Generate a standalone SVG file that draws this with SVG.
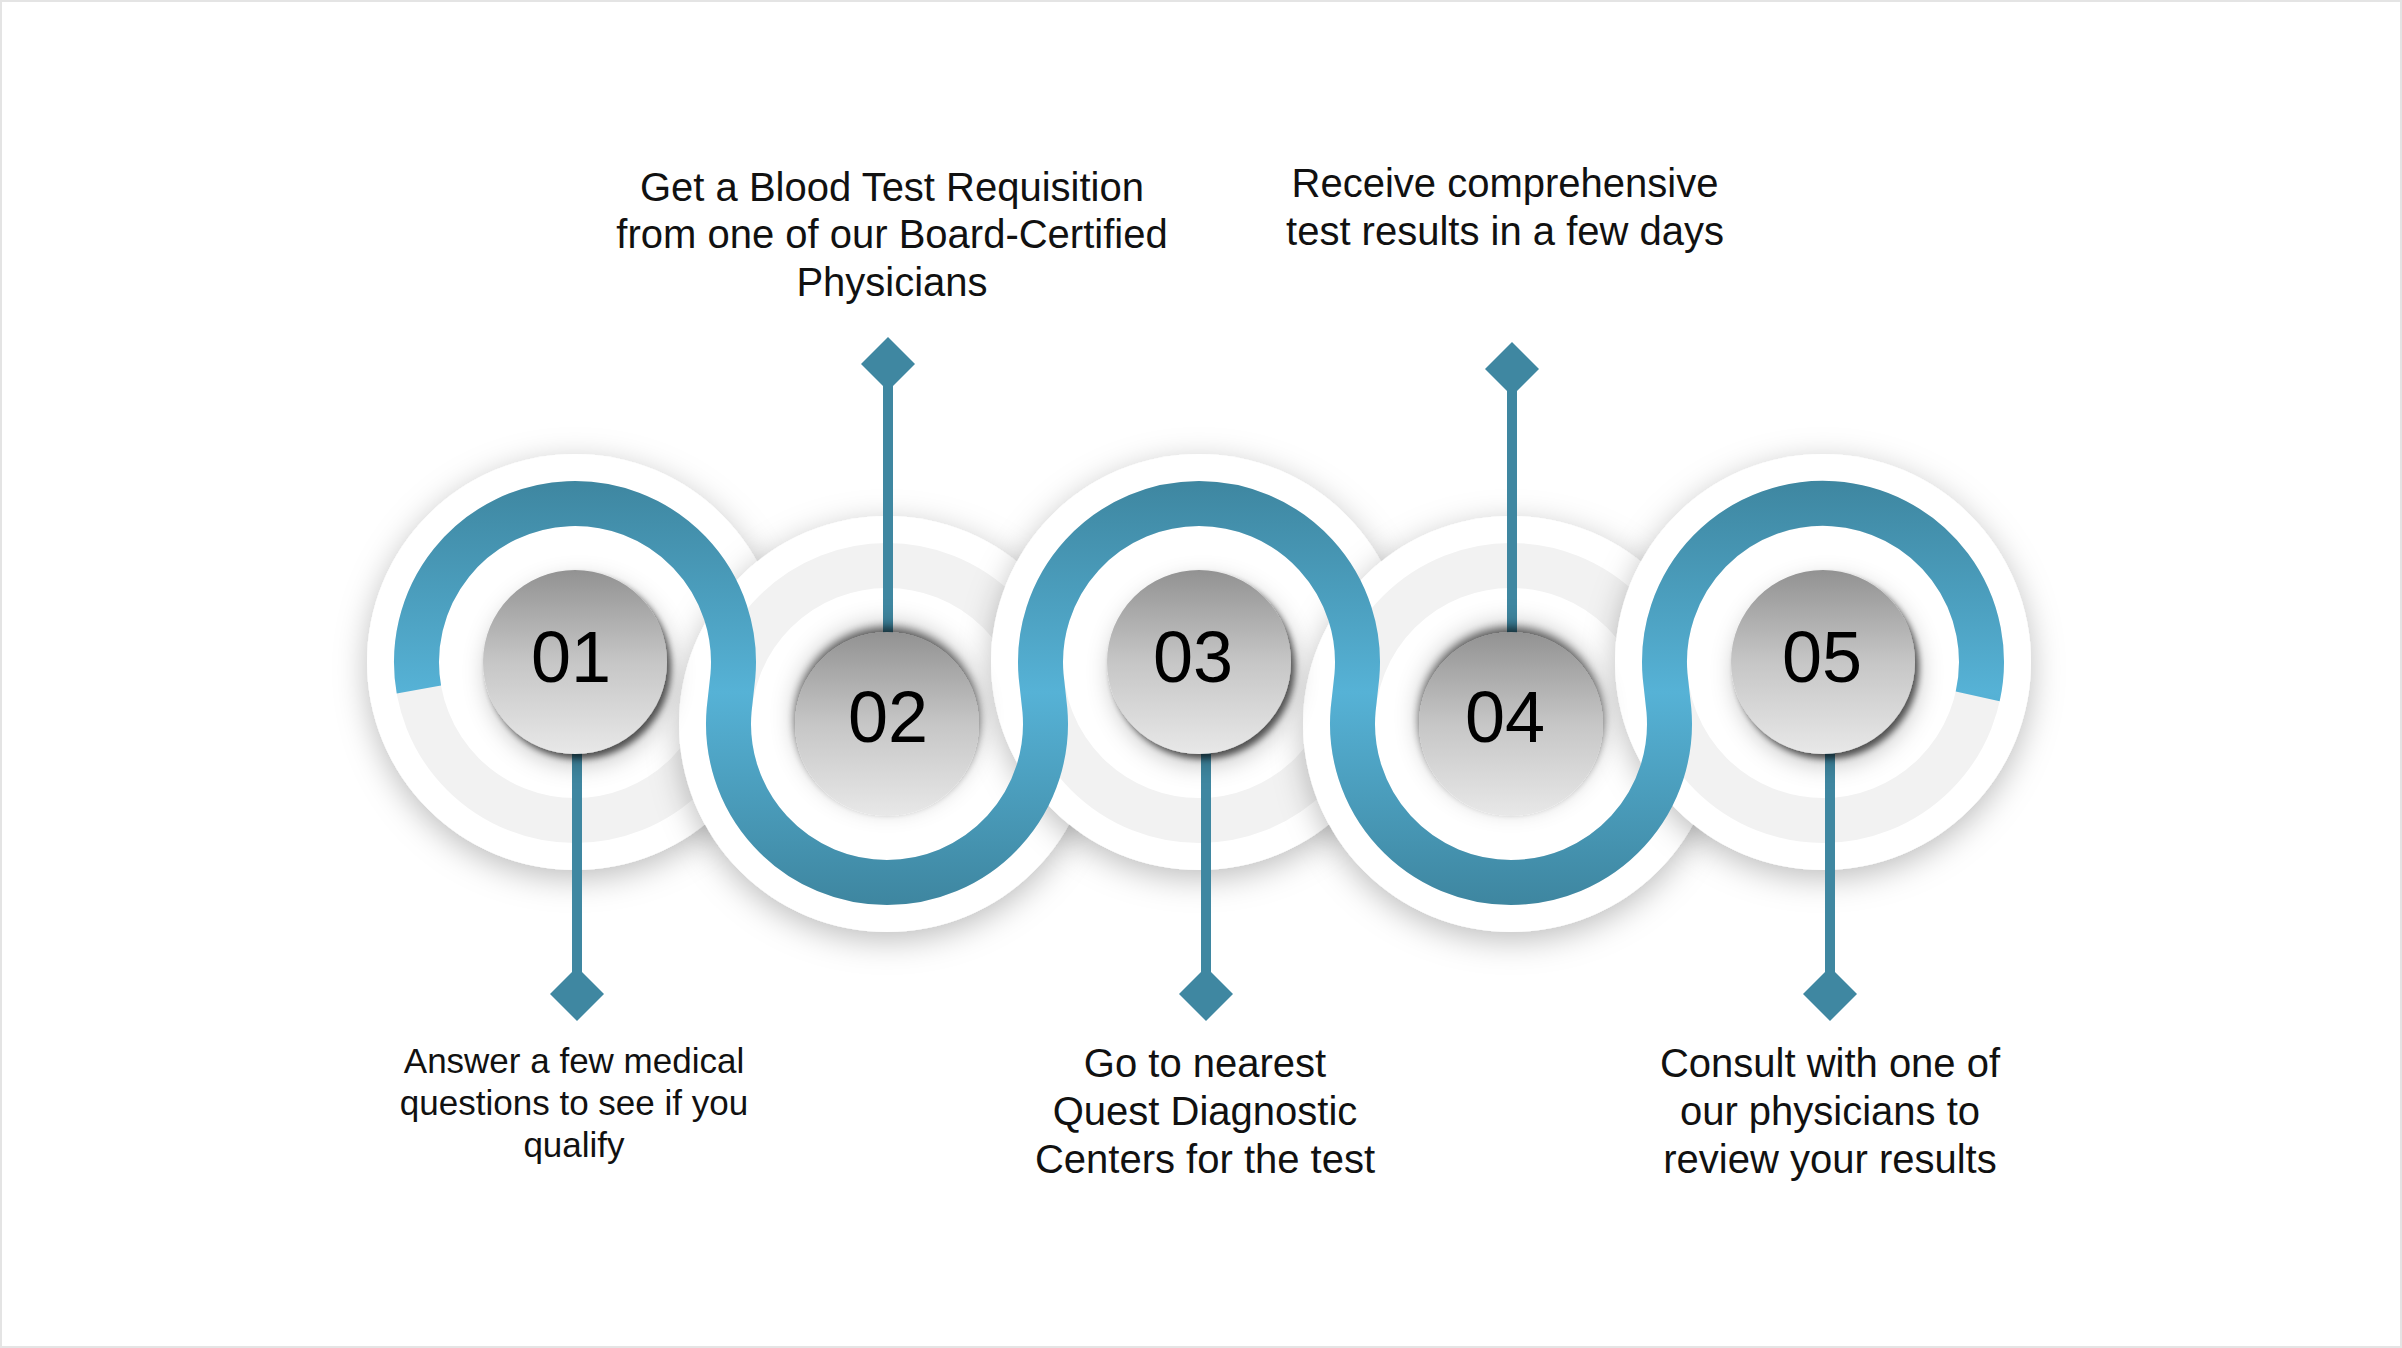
<svg xmlns="http://www.w3.org/2000/svg" width="2402" height="1348" viewBox="0 0 2402 1348">
<defs>
<style>
.outer{fill:#ffffff;filter:url(#outerShadow);}
.track{fill:none;stroke:#f2f2f2;stroke-width:45;}
.disc{fill:url(#discGrad);}
.odd{filter:url(#discShadowOdd);}
.even{filter:url(#discShadowEven);}
.num{font-family:"Liberation Sans",Arial,sans-serif;font-size:72px;fill:#000000;text-anchor:middle;}
.lbl{font-family:"Liberation Sans",Arial,sans-serif;font-size:40px;fill:#111111;text-anchor:middle;}
.lbl-s{font-size:35px;}
.conn{stroke:#3f87a1;stroke-width:10;fill:none;}
.dia{fill:#3f87a1;}
</style>
<linearGradient id="blueGrad" gradientUnits="userSpaceOnUse" x1="0" y1="480" x2="0" y2="904">
<stop offset="0" stop-color="#3e86a0"/>
<stop offset="0.5" stop-color="#56b2d6"/>
<stop offset="1" stop-color="#3e86a0"/>
</linearGradient>
<linearGradient id="discGrad" x1="0" y1="0" x2="0" y2="1">
<stop offset="0" stop-color="#929292"/>
<stop offset="0.5" stop-color="#c6c6c6"/>
<stop offset="1" stop-color="#e8e8e8"/>
</linearGradient>
<filter id="outerShadow" x="-30%" y="-30%" width="160%" height="160%">
<feGaussianBlur in="SourceAlpha" stdDeviation="16"/>
<feOffset dx="0" dy="8" result="b"/>
<feFlood flood-color="#000000" flood-opacity="0.26"/>
<feComposite in2="b" operator="in" result="s"/>
<feMerge><feMergeNode in="s"/><feMergeNode in="SourceGraphic"/></feMerge>
</filter>
<filter id="discShadowOdd" x="-40%" y="-40%" width="180%" height="180%">
<feGaussianBlur in="SourceAlpha" stdDeviation="12"/>
<feOffset dx="4" dy="10" result="b1"/>
<feFlood flood-color="#000000" flood-opacity="0.25"/>
<feComposite in2="b1" operator="in" result="s1"/>
<feGaussianBlur in="SourceAlpha" stdDeviation="3"/>
<feOffset dx="4" dy="5" result="b2"/>
<feFlood flood-color="#000000" flood-opacity="0.6"/>
<feComposite in2="b2" operator="in" result="s2"/>
<feMerge><feMergeNode in="s1"/><feMergeNode in="s2"/><feMergeNode in="SourceGraphic"/></feMerge>
</filter>
<filter id="discShadowEven" x="-40%" y="-40%" width="180%" height="180%">
<feGaussianBlur in="SourceAlpha" stdDeviation="12"/>
<feOffset dx="0" dy="-8" result="b1"/>
<feFlood flood-color="#000000" flood-opacity="0.25"/>
<feComposite in2="b1" operator="in" result="s1"/>
<feGaussianBlur in="SourceAlpha" stdDeviation="4"/>
<feOffset dx="0" dy="-5" result="b2"/>
<feFlood flood-color="#000000" flood-opacity="0.55"/>
<feComposite in2="b2" operator="in" result="s2"/>
<feMerge><feMergeNode in="s1"/><feMergeNode in="s2"/><feMergeNode in="SourceGraphic"/></feMerge>
</filter>
</defs>
<rect x="0" y="0" width="2402" height="1348" fill="#ffffff"/>
<rect x="1" y="1" width="2400" height="1346" fill="none" stroke="#e4e4e4" stroke-width="2"/>

<g id="rings">
<circle class="outer" cx="575" cy="662" r="208"/>
<circle class="track" cx="575" cy="662" r="158.5"/>
<circle class="outer" cx="887" cy="724" r="208"/>
<circle class="track" cx="887" cy="724" r="158.5"/>
<circle class="outer" cx="1199" cy="662" r="208"/>
<circle class="track" cx="1199" cy="662" r="158.5"/>
<circle class="outer" cx="1511" cy="724" r="208"/>
<circle class="track" cx="1511" cy="724" r="158.5"/>
<circle class="outer" cx="1823" cy="662" r="208"/>
<circle class="track" cx="1823" cy="662" r="158.5"/>
</g>

<path id="wave" d="M418.9,689.5 A158.5,158.5 0 1 1 732.9,675.8 L729.1,710.2 A158.5,158.5 0 1 0 1044.9,710.2 L1041.1,675.8 A158.5,158.5 0 1 1 1356.9,675.8 L1353.1,710.2 A158.5,158.5 0 1 0 1668.9,710.2 L1665.1,675.8 A158.5,158.5 0 1 1 1977.7,696.3" fill="none" stroke="url(#blueGrad)" stroke-width="45" stroke-linejoin="round"/>

<g id="connectors">
<line class="conn" x1="577" y1="740" x2="577" y2="990"/>
<path class="dia" d="M577,967 L604,994 L577,1021 L550,994 Z"/>
<line class="conn" x1="888" y1="650" x2="888" y2="368"/>
<path class="dia" d="M888,337 L915,364 L888,391 L861,364 Z"/>
<line class="conn" x1="1206" y1="740" x2="1206" y2="990"/>
<path class="dia" d="M1206,967 L1233,994 L1206,1021 L1179,994 Z"/>
<line class="conn" x1="1512" y1="650" x2="1512" y2="372"/>
<path class="dia" d="M1512,342 L1539,369 L1512,396 L1485,369 Z"/>
<line class="conn" x1="1830" y1="740" x2="1830" y2="990"/>
<path class="dia" d="M1830,967 L1857,994 L1830,1021 L1803,994 Z"/>
</g>

<g id="step1">
<circle class="disc odd" cx="575" cy="662" r="92"/>
<text class="num" x="571" y="682">01</text>
<text class="lbl lbl-s" x="574" y="1073">Answer a few medical</text>
<text class="lbl lbl-s" x="574" y="1115">questions to see if you</text>
<text class="lbl lbl-s" x="574" y="1157">qualify</text>
</g>
<g id="step2">
<circle class="disc even" cx="887" cy="724" r="92"/>
<text class="num" x="888" y="742">02</text>
<text class="lbl" x="892" y="201">Get a Blood Test Requisition</text>
<text class="lbl" x="892" y="248">from one of our Board-Certified</text>
<text class="lbl" x="892" y="296">Physicians</text>
</g>
<g id="step3">
<circle class="disc odd" cx="1199" cy="662" r="92"/>
<text class="num" x="1193" y="682">03</text>
<text class="lbl" x="1205" y="1077">Go to nearest</text>
<text class="lbl" x="1205" y="1125">Quest Diagnostic</text>
<text class="lbl" x="1205" y="1173">Centers for the test</text>
</g>
<g id="step4">
<circle class="disc even" cx="1511" cy="724" r="92"/>
<text class="num" x="1505" y="742">04</text>
<text class="lbl" x="1505" y="197">Receive comprehensive</text>
<text class="lbl" x="1505" y="245">test results in a few days</text>
</g>
<g id="step5">
<circle class="disc odd" cx="1823" cy="662" r="92"/>
<text class="num" x="1822" y="682">05</text>
<text class="lbl" x="1830" y="1077">Consult with one of</text>
<text class="lbl" x="1830" y="1125">our physicians to</text>
<text class="lbl" x="1830" y="1173">review your results</text>
</g>
</svg>
